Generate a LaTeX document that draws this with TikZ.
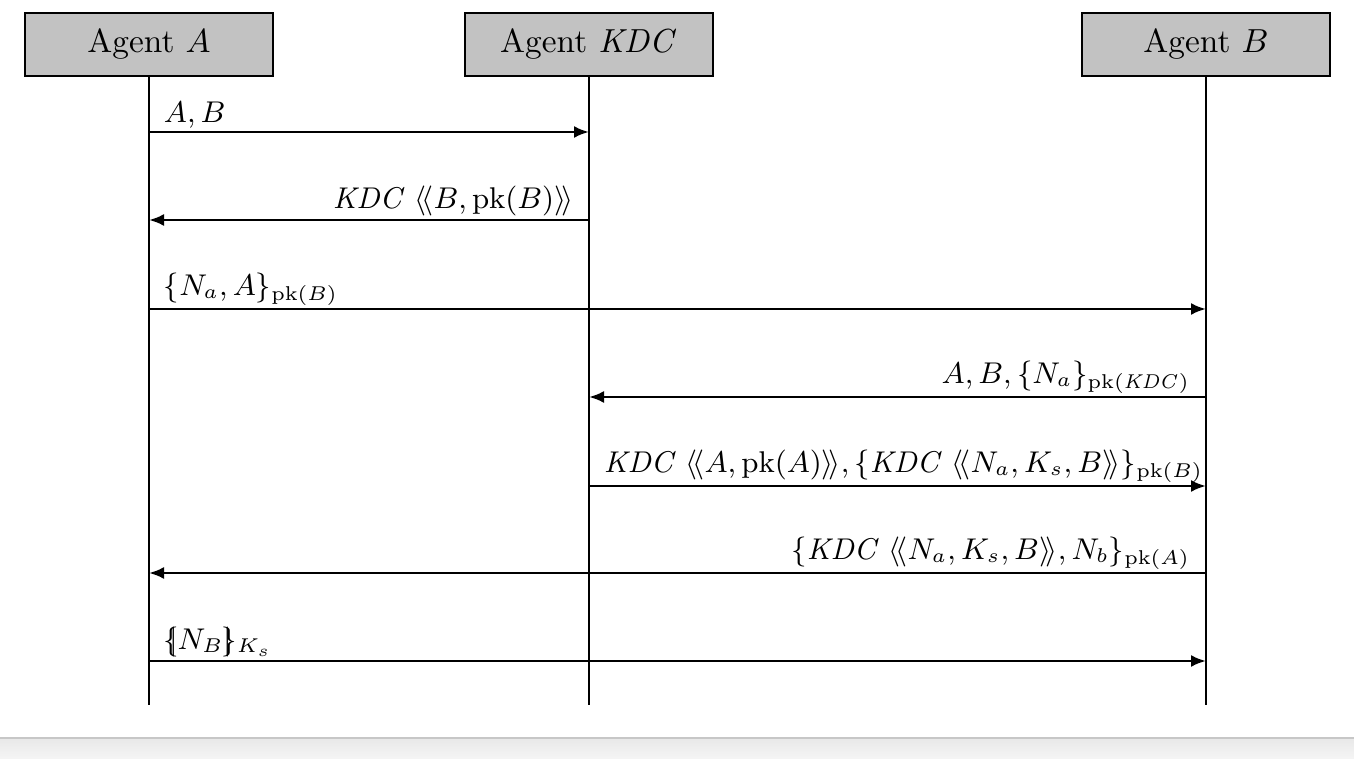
\documentclass[tikz,border=0pt]{standalone}
\usetikzlibrary{arrows.meta}
\begin{document}
\begin{tikzpicture}[x=0.3pt,y=-0.3pt,
  agent/.style={draw,fill=black!24,line width=0.8pt,minimum width=74.4pt,minimum height=18.9pt,inner sep=0pt},
  life/.style={line width=0.75pt},
  msg/.style={line width=0.75pt,-{Latex[length=4.5pt,width=3.6pt]}},
  lblr/.style={pos=0,anchor=south west,inner sep=0.8pt,xshift=3.3pt,font=\small},
  lbll/.style={pos=0,anchor=south east,inner sep=0.8pt,xshift=-3.6pt,font=\small}]
\useasboundingbox (0,0) rectangle (1354,759);
\fill[white] (0,0) rectangle (1354,759);
\shade[top color=black!9,bottom color=black!4] (0,738) rectangle (1354,759);
\draw[black!22,line width=0.5pt] (0,738) -- (1354,738);
% agents
\node[agent] (A) at (149,44.5) {Agent $A$};
\node[agent] (K) at (589,44.5) {Agent $\mathit{KDC}$};
\node[agent] (B) at (1206,44.5) {Agent $B$};
\coordinate (Ae) at (149,705);
\coordinate (Ke) at (589,705);
\coordinate (Be) at (1206,705);
\draw[life] (A.south) -- (Ae);
\draw[life] (K.south) -- (Ke);
\draw[life] (B.south) -- (Be);
% message rows
\coordinate (m1) at (0,132);
\coordinate (m2) at (0,220);
\coordinate (m3) at (0,309);
\coordinate (m4) at (0,397);
\coordinate (m5) at (0,486);
\coordinate (m6) at (0,573);
\coordinate (m7) at (0,661);
\draw[msg] (A |- m1) -- (K |- m1) node[lblr] {$A, B$};
\draw[msg] (K |- m2) -- (A |- m2) node[lbll] {$\mathit{KDC}\;\langle\!\langle B, \mathrm{pk}(B)\rangle\!\rangle$};
\draw[msg] (A |- m3) -- (B |- m3) node[lblr] {$\{N_a, A\}_{\mathrm{pk}(B)}$};
\draw[msg] (B |- m4) -- (K |- m4) node[lbll] {$A, B, \{N_a\}_{\mathrm{pk}(\mathit{KDC})}$};
\draw[msg] (K |- m5) -- (B |- m5) node[lblr] {$\mathit{KDC}\;\langle\!\langle A, \mathrm{pk}(A)\rangle\!\rangle, \{\mathit{KDC}\;\langle\!\langle N_a, K_s, B\rangle\!\rangle\}_{\mathrm{pk}(B)}$};
\draw[msg] (B |- m6) -- (A |- m6) node[lbll] {$\{\mathit{KDC}\;\langle\!\langle N_a, K_s, B\rangle\!\rangle, N_b\}_{\mathrm{pk}(A)}$};
\draw[msg] (A |- m7) -- (B |- m7) node[lblr] {$\{\!\!|N_B|\!\!\}_{K_s}$};
\end{tikzpicture}
\end{document}
